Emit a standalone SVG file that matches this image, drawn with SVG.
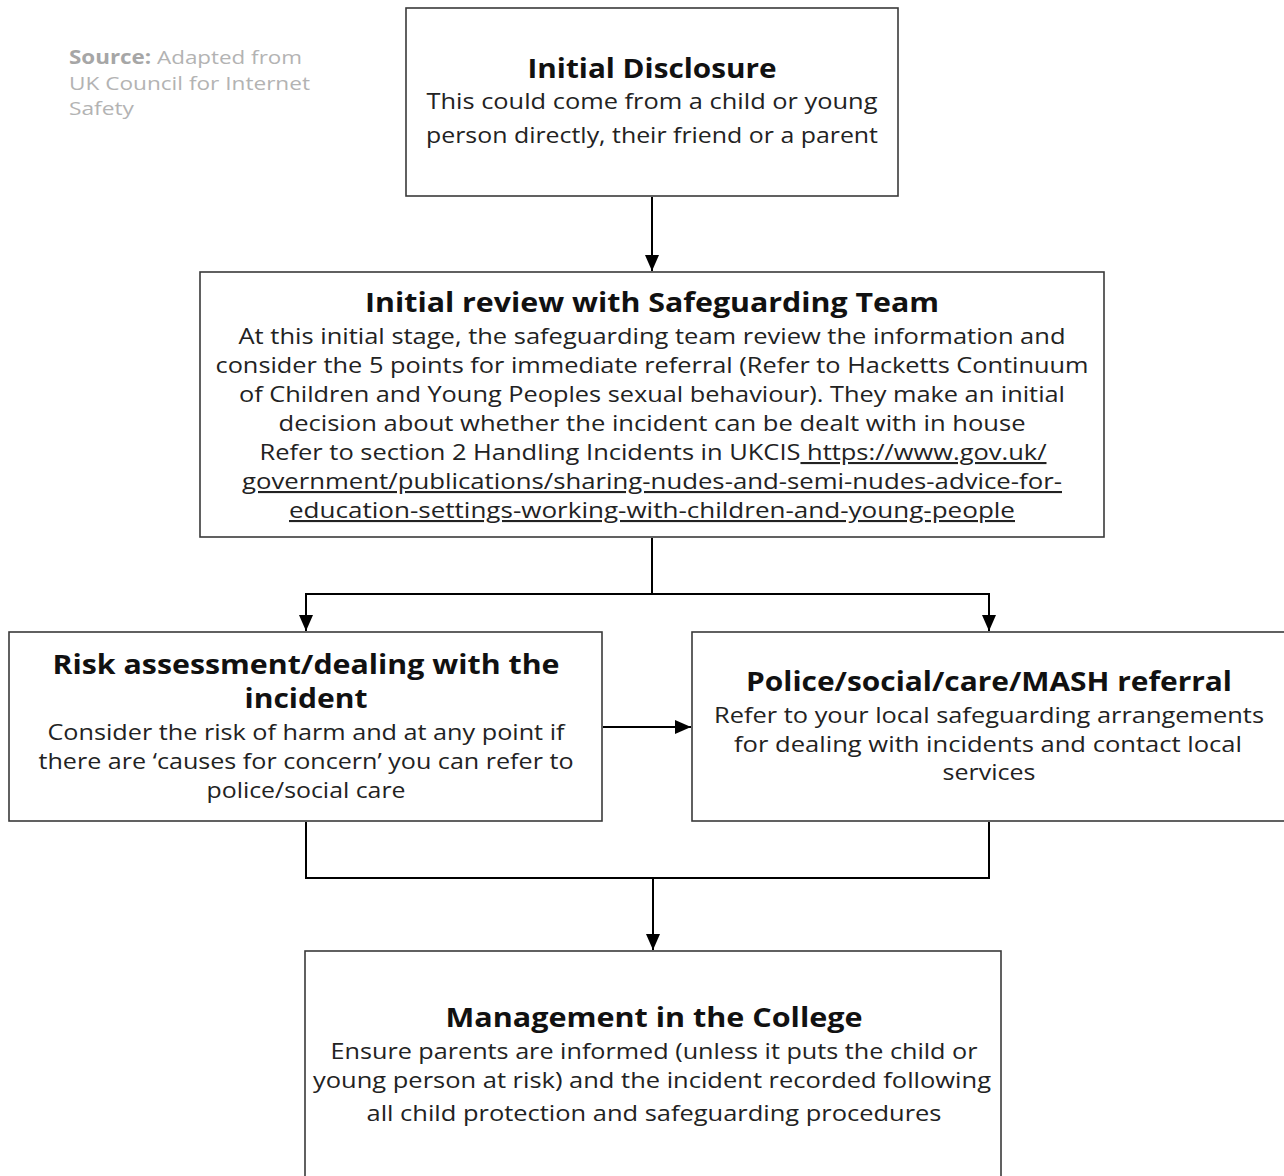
<svg xmlns="http://www.w3.org/2000/svg" width="1284" height="1176" viewBox="0 0 1284 1176">
<style>
.box{fill:#fff;stroke:#3a3a3a;stroke-width:1.6}
.h{font-family:"Open Sans","Liberation Sans",sans-serif;font-weight:bold;font-size:26px;fill:#111;text-anchor:middle}
.b{font-family:"Open Sans","Liberation Sans",sans-serif;font-size:21px;fill:#222;text-anchor:middle}
.src{font-family:"Open Sans","Liberation Sans",sans-serif;font-size:19px;fill:#b3b3b3}
.c{fill:none;stroke:#000;stroke-width:2}
.u{text-decoration:underline}
</style>
<defs>
<marker id="ah" viewBox="0 0 10 10" refX="10" refY="5" markerWidth="16" markerHeight="14" markerUnits="userSpaceOnUse" orient="auto" preserveAspectRatio="none">
<path d="M0,0 L10,5 L0,10 z" fill="#000"/>
</marker>
</defs>
<rect width="1284" height="1176" fill="#fff"/>

<g id="source">
<text class="src" x="69" y="64" textLength="233" lengthAdjust="spacingAndGlyphs"><tspan font-weight="bold" fill="#a6a6a6">Source:</tspan> Adapted from</text>
<text class="src" x="69" y="90" textLength="241" lengthAdjust="spacingAndGlyphs">UK Council for Internet</text>
<text class="src" x="69" y="115" textLength="65" lengthAdjust="spacingAndGlyphs">Safety</text>
</g>

<g id="connectors">
<line class="c" x1="652" y1="197" x2="652" y2="271" marker-end="url(#ah)"/>
<polyline class="c" points="652,538 652,594"/>
<polyline class="c" points="306,594 989,594"/>
<line class="c" x1="306" y1="593" x2="306" y2="631" marker-end="url(#ah)"/>
<line class="c" x1="989" y1="593" x2="989" y2="631" marker-end="url(#ah)"/>
<line class="c" x1="603" y1="727" x2="691" y2="727" marker-end="url(#ah)"/>
<polyline class="c" points="306,822 306,878 989,878 989,822"/>
<line class="c" x1="653" y1="878" x2="653" y2="950" marker-end="url(#ah)"/>
</g>

<g id="initial-disclosure">
<rect class="box" x="406" y="8" width="492" height="188"/>
<text class="h" x="652" y="78" textLength="249" lengthAdjust="spacingAndGlyphs">Initial Disclosure</text>
<text class="b" x="652" y="109" textLength="451" lengthAdjust="spacingAndGlyphs">This could come from a child or young</text>
<text class="b" x="652" y="143" textLength="452" lengthAdjust="spacingAndGlyphs">person directly, their friend or a parent</text>
</g>

<g id="initial-review">
<rect class="box" x="200" y="272" width="904" height="265"/>
<text class="h" x="652" y="312" textLength="574" lengthAdjust="spacingAndGlyphs">Initial review with Safeguarding Team</text>
<text class="b" x="652" y="344" textLength="827" lengthAdjust="spacingAndGlyphs">At this initial stage, the safeguarding team review the information and</text>
<text class="b" x="652" y="373" textLength="873" lengthAdjust="spacingAndGlyphs">consider the 5 points for immediate referral (Refer to Hacketts Continuum</text>
<text class="b" x="652" y="402" textLength="826" lengthAdjust="spacingAndGlyphs">of Children and Young Peoples sexual behaviour). They make an initial</text>
<text class="b" x="652" y="431" textLength="747" lengthAdjust="spacingAndGlyphs">decision about whether the incident can be dealt with in house</text>
<text class="b" x="653" y="460" textLength="787" lengthAdjust="spacingAndGlyphs">Refer to section 2 Handling Incidents in UKCIS<tspan class="u"> https://www.gov.uk/</tspan></text>
<text class="b u" x="652" y="489" textLength="820" lengthAdjust="spacingAndGlyphs">government/publications/sharing-nudes-and-semi-nudes-advice-for-</text>
<text class="b u" x="652" y="518" textLength="726" lengthAdjust="spacingAndGlyphs">education-settings-working-with-children-and-young-people</text>
</g>

<g id="risk-assessment">
<rect class="box" x="9" y="632" width="593" height="189"/>
<text class="h" x="306" y="674" textLength="507" lengthAdjust="spacingAndGlyphs">Risk assessment/dealing with the</text>
<text class="h" x="306" y="708" textLength="123" lengthAdjust="spacingAndGlyphs">incident</text>
<text class="b" x="306" y="740" textLength="517" lengthAdjust="spacingAndGlyphs">Consider the risk of harm and at any point if</text>
<text class="b" x="306" y="769" textLength="535" lengthAdjust="spacingAndGlyphs">there are ‘causes for concern’ you can refer to</text>
<text class="b" x="306" y="798" textLength="199" lengthAdjust="spacingAndGlyphs">police/social care</text>
</g>

<g id="police-referral">
<rect class="box" x="692" y="632" width="600" height="189"/>
<text class="h" x="989" y="691" textLength="486" lengthAdjust="spacingAndGlyphs">Police/social/care/MASH referral</text>
<text class="b" x="989" y="723" textLength="550" lengthAdjust="spacingAndGlyphs">Refer to your local safeguarding arrangements</text>
<text class="b" x="988" y="752" textLength="508" lengthAdjust="spacingAndGlyphs">for dealing with incidents and contact local</text>
<text class="b" x="989" y="780" textLength="93" lengthAdjust="spacingAndGlyphs">services</text>
</g>

<g id="management">
<rect class="box" x="305" y="951" width="696" height="240"/>
<text class="h" x="654" y="1027" textLength="417" lengthAdjust="spacingAndGlyphs">Management in the College</text>
<text class="b" x="654" y="1059" textLength="647" lengthAdjust="spacingAndGlyphs">Ensure parents are informed (unless it puts the child or</text>
<text class="b" x="652" y="1088" textLength="678" lengthAdjust="spacingAndGlyphs">young person at risk) and the incident recorded following</text>
<text class="b" x="654" y="1121" textLength="575" lengthAdjust="spacingAndGlyphs">all child protection and safeguarding procedures</text>
</g>
</svg>
